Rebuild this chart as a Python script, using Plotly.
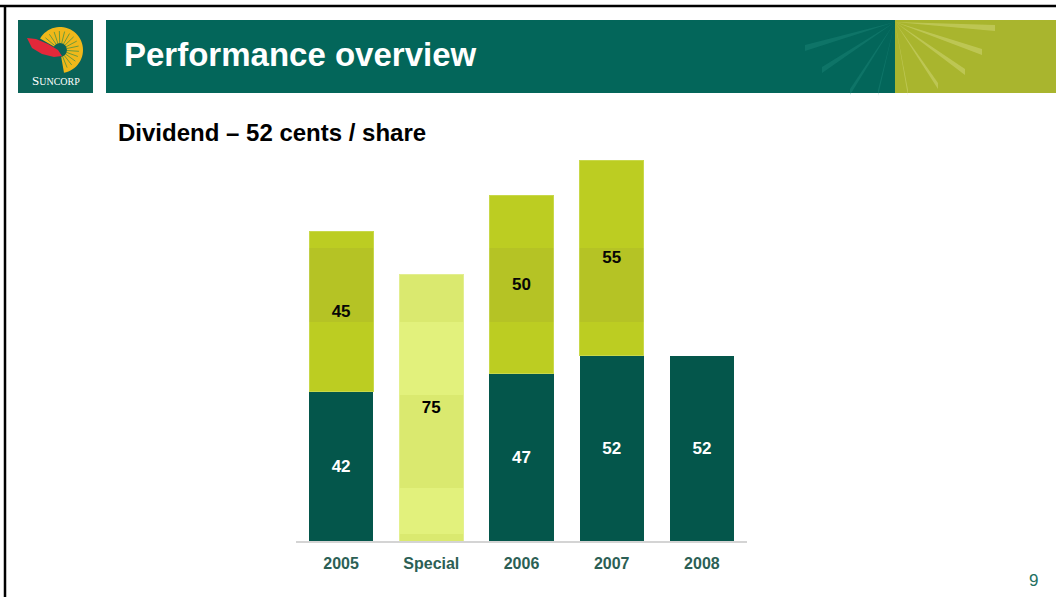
import plotly.graph_objects as go
import math

# ---- data ----
categories = ["2005", "Special", "2006", "2007", "2008"]
interim = [42, None, 47, 52, 52]
final = [45, None, 50, 55, None]
special = [None, 75, None, None, None]

W, H = 1056, 597
PL, PR, PT, PB = 296, 747, 150, 541  # plot area in pixels
SCALE = 3.56
YMAX = (PB - PT) / SCALE


def px(x):
    return (x - PL) / (PR - PL)


def py(y):
    return (PB - y) / (PB - PT)


def dv(y):
    return (PB - y) / SCALE


def path(points, close=True):
    s = "M " + " L ".join(f"{px(x):.5f},{py(y):.5f}" for x, y in points)
    return s + (" Z" if close else "")


DARK = "#04564b"
LIGHT = "#bccd22"
SPEC = "#dae96f"
font = "Liberation Sans, Arial, sans-serif"
BW = 0.71

fig = go.Figure()
fig.add_trace(go.Bar(
    x=categories, y=interim, marker=dict(color=DARK, line=dict(width=0)),
    text=interim, texttemplate="%{text}", textposition="inside",
    insidetextanchor="middle", textfont=dict(color="white", size=17, family=font, weight="bold"),
    width=BW, hoverinfo="skip"))
fig.add_trace(go.Bar(
    x=categories, y=final, marker=dict(color=LIGHT, line=dict(width=1, color="#c8d84a")),
    text=final, texttemplate="%{text}", textposition="inside",
    insidetextanchor="middle", textfont=dict(color="black", size=17, family=font, weight="bold"),
    width=BW, hoverinfo="skip"))
fig.add_trace(go.Bar(
    x=categories, y=special, marker=dict(color=SPEC, line=dict(width=1, color="#e2ee90")),
    text=special, texttemplate="%{text}", textposition="inside",
    insidetextanchor="middle", textfont=dict(color="black", size=17, family=font, weight="bold"),
    width=BW, hoverinfo="skip"))

shapes = []
# subtle horizontal shading bands seen on the bars
for i, v in enumerate(final):
    if v:
        shapes.append(dict(type="rect", xref="x", yref="y", x0=i - BW / 2, x1=i + BW / 2,
                           y0=dv(322), y1=dv(248), fillcolor="rgba(100,90,80,0.08)",
                           line=dict(width=0), layer="above"))
for i, v in enumerate(special):
    if v:
        for a, b in [(322, 395), (488, 534)]:
            shapes.append(dict(type="rect", xref="x", yref="y", x0=i - BW / 2, x1=i + BW / 2,
                               y0=dv(b), y1=dv(a), fillcolor="rgba(235,250,140,0.45)",
                               line=dict(width=0), layer="above"))

# slide border (top and left)
shapes.append(dict(type="line", xref="paper", yref="paper", x0=px(0), x1=px(W), y0=py(6), y1=py(6),
                   line=dict(color="black", width=2.5)))
shapes.append(dict(type="line", xref="paper", yref="paper", x0=px(5), x1=px(5), y0=py(5), y1=py(H),
                   line=dict(color="black", width=2.5)))
# logo box
shapes.append(dict(type="rect", xref="paper", yref="paper", x0=px(18), x1=px(93), y0=py(20), y1=py(93),
                   fillcolor="#0a6358", line=dict(width=0), layer="below"))
# sun fan
cx, cy, r = 60, 50, 23
pts = [(cx, cy)]
for i in range(0, 41):
    a = math.radians(150 - i * (150 + 80) / 40)
    pts.append((cx + r * math.cos(a), cy - r * math.sin(a)))
shapes.append(dict(type="path", xref="paper", yref="paper", path=path(pts),
                   fillcolor="#f0b81a", line=dict(width=0)))
for i in range(0, 14):
    a = math.radians(140 - i * 16)
    shapes.append(dict(type="line", xref="paper", yref="paper",
                       x0=px(cx + 7 * math.cos(a)), y0=py(cy - 7 * math.sin(a)),
                       x1=px(cx + 19 * math.cos(a)), y1=py(cy - 19 * math.sin(a)),
                       line=dict(color="#6e9a3a", width=1)))
shapes.append(dict(type="circle", xref="paper", yref="paper", x0=px(cx - 7), x1=px(cx + 7),
                   y0=py(cy - 7), y1=py(cy + 7), fillcolor="#0a6358", line=dict(width=0)))
leaf = [(27, 38), (36, 39), (48, 44), (58, 50), (62, 56), (54, 57), (42, 54), (32, 48)]
shapes.append(dict(type="path", xref="paper", yref="paper", path=path(leaf),
                   fillcolor="#e3283a", line=dict(width=0)))
# header bar
shapes.append(dict(type="rect", xref="paper", yref="paper", x0=px(106), x1=px(895), y0=py(20), y1=py(93),
                   fillcolor="#03665a", line=dict(width=0), layer="below"))
shapes.append(dict(type="rect", xref="paper", yref="paper", x0=px(895), x1=px(W), y0=py(20), y1=py(93),
                   fillcolor="#a9b52e", line=dict(width=0), layer="below"))
ox, oy = 895, 22
for ex, ey in [(805, 48), (822, 70), (850, 92), (878, 93)]:
    shapes.append(dict(type="path", xref="paper", yref="paper",
                       path=path([(ox, oy), (ex, ey - 3), (ex, ey + 3)]),
                       fillcolor="rgba(40,150,135,0.3)", line=dict(width=0)))
for ex, ey in [(995, 28), (982, 52), (965, 72), (938, 86), (908, 93)]:
    shapes.append(dict(type="path", xref="paper", yref="paper",
                       path=path([(ox, oy), (ex, ey - 3), (ex, ey + 3)]),
                       fillcolor="rgba(220,225,140,0.4)", line=dict(width=0)))

annotations = [
    dict(text="Performance overview", xref="paper", yref="paper", x=px(122), y=py(55),
         xanchor="left", yanchor="middle", showarrow=False,
         font=dict(family=font, size=33, color="white", weight="bold")),
    dict(text="S<span style='font-size:10px'>UNCORP</span>", xref="paper", yref="paper", x=px(56), y=py(81),
         xanchor="center", yanchor="middle", showarrow=False,
         font=dict(family="Liberation Serif, serif", size=13, color="white")),
    dict(text="Dividend – 52 cents / share", xref="paper", yref="paper", x=px(116), y=py(132),
         xanchor="left", yanchor="middle", showarrow=False,
         font=dict(family=font, size=24, color="black", weight="bold")),
    dict(text="9", xref="paper", yref="paper", x=px(1033), y=py(580),
         xanchor="center", yanchor="middle", showarrow=False,
         font=dict(family=font, size=17, color="#23705f")),
]

fig.update_layout(
    width=W, height=H, autosize=False,
    margin=dict(l=PL, r=W - PR, t=PT, b=H - PB, pad=0),
    paper_bgcolor="white", plot_bgcolor="white",
    barmode="stack", bargap=0.29, showlegend=False,
    shapes=shapes, annotations=annotations,
)
fig.update_xaxes(type="category", range=[-0.5, 4.5], showline=True, linecolor="#d4d4d4", linewidth=2,
                 ticks="", showgrid=False, zeroline=False, ticklabelstandoff=7,
                 tickfont=dict(family=font, size=16, color="#2c5f55", weight="bold"))
fig.update_yaxes(range=[0, YMAX], visible=False, showgrid=False, zeroline=False)

fig.write_html("out.html", config={"displayModeBar": False},
               post_script="document.body.style.margin='0';document.body.style.overflow='hidden';")
